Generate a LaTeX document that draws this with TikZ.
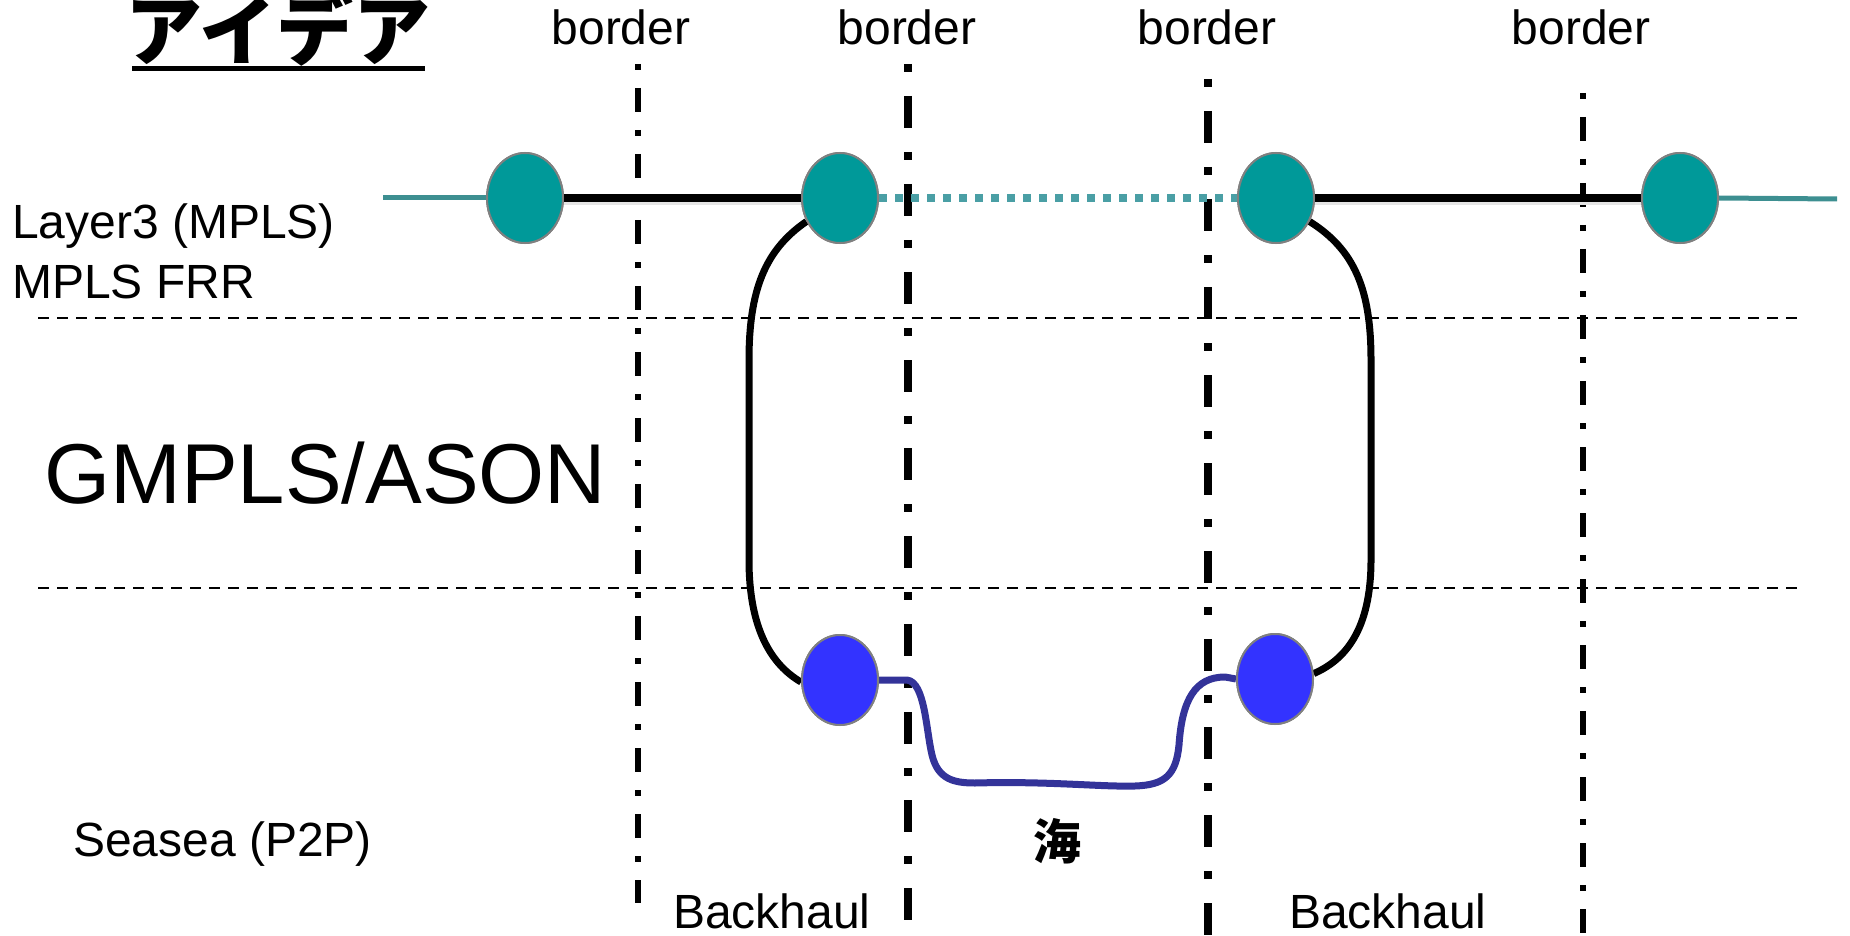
\documentclass[tikz,border=0pt]{standalone}
\usepackage{fontspec}
\setmainfont{Liberation Sans}
\newfontfamily\jp{Noto Sans CJK JP}
\usetikzlibrary{shapes.geometric}
\definecolor{tealfill}{HTML}{009999}
\definecolor{tealline}{HTML}{3D8F91}
\definecolor{tealdot}{HTML}{4A9FA5}
\definecolor{bluefill}{HTML}{3333FF}
\definecolor{seablue}{HTML}{333399}
\definecolor{rimgray}{HTML}{808080}
\tikzset{
  l3node/.style={ellipse, draw=rimgray, line width=2pt, fill=tealfill, minimum width=76pt, minimum height=90pt, inner sep=0pt},
  sdhnode/.style={ellipse, draw=rimgray, line width=2pt, fill=bluefill, minimum width=76pt, minimum height=90pt, inner sep=0pt},
  thinborder/.style={line width=6pt, dash pattern=on 6pt off 18pt on 24pt off 18pt},
  thickborder/.style={line width=8pt, dash pattern=on 8pt off 24pt on 32pt off 24pt},
  layerline/.style={line width=2.5pt, dash pattern=on 11pt off 8pt},
  lbl/.style={inner sep=0pt, font=\fontsize{48}{52}\selectfont},
  shadowline/.style={black!10, line width=7pt},
}
\begin{document}
\begin{tikzpicture}[x=1pt,y=-1pt]
\useasboundingbox (0,0) rectangle (1850,936);
% title
\node[inner sep=0pt, anchor=base, font=\jp\bfseries\fontsize{77}{80}\selectfont] (title) at (278,60) {アイデア};
\draw[line width=5pt] (132,69) -- (425,69);
% layer separators
\draw[layerline] (38,318) -- (1804,318);
\draw[layerline] (38,588) -- (1804,588);
% border lines
\draw[thinborder] (638,64) -- (638,903);
\draw[thickborder] (908,64) -- (908,920);
\draw[thickborder] (1208,79) -- (1208,936);
\draw[thinborder] (1583,93) -- (1583,936);
% labels
\node[lbl, anchor=base] (b1) at (621,45) {border};
\node[lbl, anchor=base] (b2) at (907,45) {border};
\node[lbl, anchor=base] (b3) at (1207,45) {border};
\node[lbl, anchor=base] (b4) at (1581,45) {border};
\node[lbl, anchor=base west] (l3) at (12,239) {Layer3 (MPLS)};
\node[lbl, anchor=base west] (frr) at (12,298) {MPLS FRR};
\node[inner sep=0pt, anchor=base west, font=\fontsize{85}{90}\selectfont] (gmpls) at (44,503) {GMPLS/ASON};
\node[lbl, anchor=base west] (sea) at (73,856) {Seasea (P2P)};
\node[lbl, anchor=base west] (bh1) at (673,928) {Backhaul};
\node[lbl, anchor=base west] (bh2) at (1289,928) {Backhaul};
\node[inner sep=0pt, font=\jp\bfseries\fontsize{48}{50}\selectfont] (umi) at (1057,841) {海};
% nodes positions
\coordinate (L) at (383,198);
\coordinate (R) at (1837,199);
\node[l3node] (n1) at (525,198) {};
\node[l3node] (n2) at (840,198) {};
\node[l3node] (n3) at (1276,198) {};
\node[l3node] (n4) at (1680,198) {};
\node[sdhnode] (s1) at (840,680) {};
\node[sdhnode] (s2) at (1275,679) {};
% shadows
\draw[shadowline] ([yshift=-4pt]n1.east) -- ([yshift=-4pt]n2.west);
\draw[shadowline] ([yshift=-4pt]n3.east) -- ([yshift=-4pt]n4.west);
% top line
\draw[tealline, line width=5pt] (L) -- (n1.west);
\draw[line width=8pt] (n1.east) -- (n2.west);
\draw[tealdot, line width=8pt, dash pattern=on 8pt off 8pt] (n2.east) -- (n3.west);
\draw[line width=8pt] (n3.east) -- (n4.west);
\draw[tealline, line width=5pt] (n4.east) -- (R);
% protection curves
\draw[line width=7pt] (n2.215) .. controls (765,250) and (749,290) .. (749,360) -- (749,560) .. controls (749,630) and (772,665) .. (s1.183);
\draw[line width=7pt] (n3.-35) .. controls (1355,250) and (1371,290) .. (1371,360) -- (1371,560) .. controls (1371,630) and (1345,660) .. (s2.8);
% sea cable
\draw[seablue, line width=7pt, line join=round] (s1.east) -- (907,680) .. controls (925,682) and (926,730) .. (932,755) .. controls (938,780) and (955,783) .. (975,783) .. controls (1050,781) and (1100,787) .. (1135,786) .. controls (1165,785) and (1176,775) .. (1179,745) .. controls (1182,700) and (1195,677) .. (1225,677) -- (s2.west);
% redraw nodes on top
\node[l3node] at (n1) {};
\node[l3node] at (n2) {};
\node[l3node] at (n3) {};
\node[l3node] at (n4) {};
\node[sdhnode] at (s1) {};
\node[sdhnode] at (s2) {};
\end{tikzpicture}
\end{document}
